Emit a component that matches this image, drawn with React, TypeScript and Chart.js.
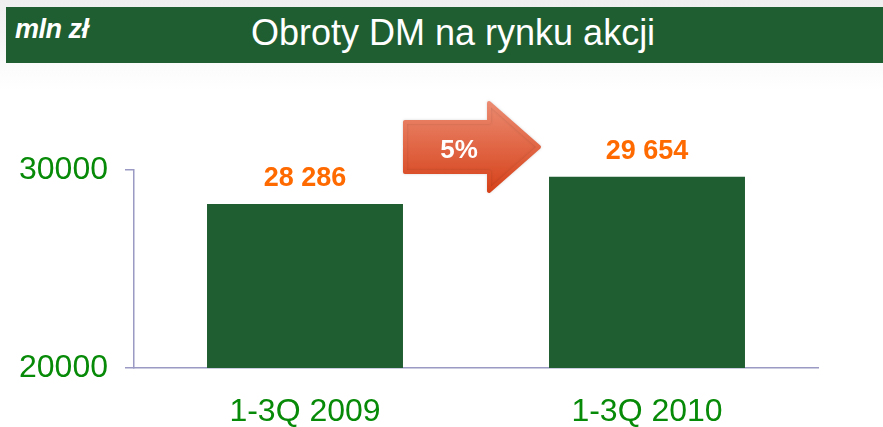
import React, { useEffect, useRef } from "react";
import { Chart, registerables } from "chart.js";

Chart.register(...registerables);

const categories = ["1-3Q 2009", "1-3Q 2010"];
const turnover = [28286, 29654];
const yTicks = [20000, 30000];
const changeLabel = "5%";
const unitLabel = "mln zł";
const titleText = "Obroty DM na rynku akcji";

const FONT = "'Liberation Sans', Arial, sans-serif";
const GREEN = "#1f5e30";
const TICK_GREEN = "#078a07";
const ORANGE = "#ff6a00";
const AXIS = "#9a9ac4";

const fmt = (v: number) => String(v).replace(/\B(?=(\d{3})+(?!\d))/g, " ");

const valueLabels = {
  id: "valueLabels",
  afterDatasetsDraw(chart: any) {
    const ctx = chart.ctx;
    const meta = chart.getDatasetMeta(0);
    ctx.save();
    ctx.font = `bold 27px ${FONT}`;
    ctx.fillStyle = ORANGE;
    ctx.textAlign = "center";
    ctx.textBaseline = "middle";
    meta.data.forEach((bar: any, i: number) => {
      ctx.fillText(fmt(turnover[i]), bar.x, bar.y - 25);
    });
    ctx.restore();
  },
};

const arrowPlugin = {
  id: "arrowPlugin",
  afterDatasetsDraw(chart: any) {
    const ctx = chart.ctx;
    const meta = chart.getDatasetMeta(0);
    const b1 = meta.data[0] as any;
    const b2 = meta.data[1] as any;
    const top = chart.chartArea.top;
    const left = b1.x + b1.width / 2 + 2;
    const tip = b2.x - b2.width / 2 - 10;
    const headX = tip - 50;
    const cy = top - 23;
    const bodyH = 50;
    const headH = 88;
    ctx.save();
    const g = ctx.createLinearGradient(0, cy - headH / 2, 0, cy + headH / 2);
    g.addColorStop(0, "#eb8a70");
    g.addColorStop(1, "#d6421a");
    ctx.fillStyle = g;
    ctx.shadowColor = "rgba(0,0,0,0.15)";
    ctx.shadowBlur = 3;
    ctx.lineJoin = "round";
    ctx.beginPath();
    ctx.moveTo(left, cy - bodyH / 2);
    ctx.lineTo(headX, cy - bodyH / 2);
    ctx.lineTo(headX, cy - headH / 2);
    ctx.lineTo(tip, cy);
    ctx.lineTo(headX, cy + headH / 2);
    ctx.lineTo(headX, cy + bodyH / 2);
    ctx.lineTo(left, cy + bodyH / 2);
    ctx.closePath();
    ctx.fill();
    ctx.strokeStyle = g;
    ctx.lineWidth = 4;
    ctx.stroke();
    ctx.shadowBlur = 0;
    ctx.shadowColor = "transparent";
    ctx.font = `bold 26px ${FONT}`;
    ctx.fillStyle = "#ffffff";
    ctx.textAlign = "center";
    ctx.textBaseline = "middle";
    ctx.fillText(changeLabel, left + 54, cy + 4);
    ctx.restore();
  },
};

export default function App() {
  const ref = useRef<HTMLCanvasElement>(null);
  useEffect(() => {
    document.body.style.margin = "0";
    document.body.style.background = "#ffffff";
    const chart = new Chart(ref.current as HTMLCanvasElement, {
      type: "bar",
      data: {
        labels: categories,
        datasets: [
          {
            data: turnover,
            backgroundColor: GREEN,
            borderWidth: 0,
            barPercentage: 0.573,
            categoryPercentage: 1,
          },
        ],
      },
      options: {
        animation: false,
        responsive: false,
        maintainAspectRatio: false,
        layout: { padding: { top: 170, right: 65, left: 0, bottom: 0 } },
        plugins: {
          legend: { display: false },
          tooltip: { enabled: false },
          title: { display: false },
        },
        scales: {
          x: {
            grid: { display: false, drawTicks: false },
            border: { display: true, color: AXIS, width: 1.5 },
            ticks: {
              padding: 25,
              color: TICK_GREEN,
              font: { family: FONT, size: 32 },
            },
            afterFit(scale: any) {
              scale.height = 59;
            },
          },
          y: {
            min: 20000,
            max: 30000,
            afterBuildTicks(scale: any) {
              scale.ticks = yTicks.map((v) => ({ value: v }));
            },
            grid: {
              drawOnChartArea: false,
              drawTicks: true,
              tickLength: 9,
              color: AXIS,
              lineWidth: 1.5,
            },
            border: { display: true, color: AXIS, width: 1.5 },
            ticks: {
              padding: 17,
              color: TICK_GREEN,
              font: { family: FONT, size: 32 },
              callback: (v: any) => String(v),
            },
            afterFit(scale: any) {
              scale.width = 134;
            },
          },
        },
      },
      plugins: [valueLabels, arrowPlugin],
    });
    return () => chart.destroy();
  }, []);

  return (
    <div style={{ position: "relative", width: 883, height: 427, background: "linear-gradient(#efefef 0px, #ffffff 90px)", overflow: "hidden" }}>
      <div
        style={{
          position: "absolute",
          left: 6,
          top: 7,
          width: 877,
          height: 56,
          background: GREEN,
        }}
      />
      <div
        style={{
          position: "absolute",
          left: 15,
          top: 14,
          color: "#ffffff",
          fontFamily: FONT,
          fontWeight: "bold",
          fontStyle: "italic",
          fontSize: 27,
          lineHeight: "30px",
          letterSpacing: "-0.5px",
          whiteSpace: "nowrap",
        }}
      >
        {unitLabel}
      </div>
      <div
        style={{
          position: "absolute",
          left: 251,
          top: 12,
          color: "#ffffff",
          fontFamily: FONT,
          fontSize: 36,
          lineHeight: "42px",
          whiteSpace: "nowrap",
        }}
      >
        {titleText}
      </div>
      <canvas ref={ref} width={883} height={427} style={{ position: "absolute", left: 0, top: 0 }} />
    </div>
  );
}
